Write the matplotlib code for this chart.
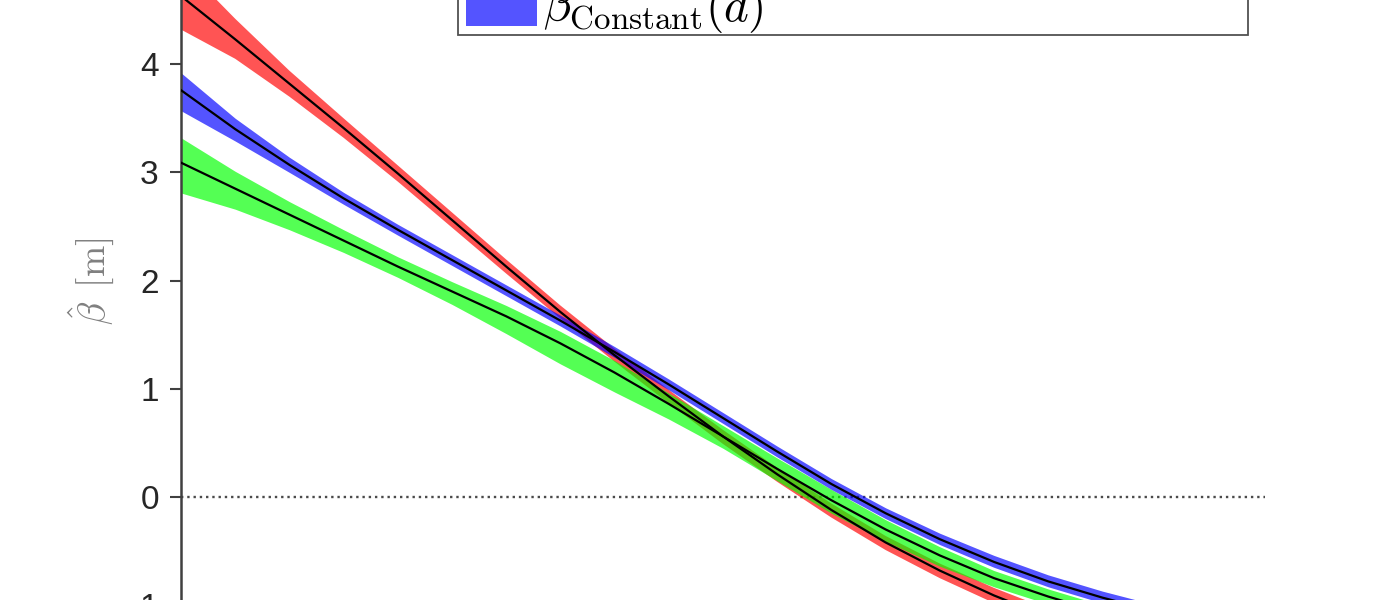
import matplotlib
matplotlib.use("Agg")
import matplotlib.pyplot as plt
from matplotlib.patches import Patch, Rectangle
from matplotlib.legend_handler import HandlerPatch
import numpy as np

plt.rcParams['font.family'] = ['Liberation Sans', 'DejaVu Sans']
plt.rcParams['mathtext.fontset'] = 'cm'
plt.rcParams['axes.unicode_minus'] = False

# ---------------- data ----------------
d = [0.0, 0.5, 1.0, 1.5, 2.0, 2.5, 3.0, 3.5, 4.0, 4.5,
     5.0, 5.5, 6.0, 6.5, 7.0, 7.5, 8.0, 8.5, 9.0]

red_mid = [4.63, 4.23, 3.82, 3.41, 2.99, 2.56, 2.13, 1.71, 1.31, 0.93,
           0.56, 0.21, -0.12, -0.42, -0.68, -0.91, -1.11, -1.29, -1.46]
red_up = [0.30, 0.19, 0.12, 0.09, 0.075, 0.07, 0.065, 0.06, 0.06, 0.06,
          0.06, 0.06, 0.06, 0.06, 0.065, 0.07, 0.075, 0.08, 0.085]
red_lo = [0.31, 0.18, 0.12, 0.09, 0.075, 0.07, 0.065, 0.06, 0.06, 0.065,
          0.07, 0.07, 0.07, 0.07, 0.07, 0.07, 0.075, 0.08, 0.085]

blue_mid = [3.76, 3.40, 3.07, 2.76, 2.47, 2.19, 1.91, 1.63, 1.34, 1.04,
            0.73, 0.42, 0.12, -0.15, -0.39, -0.60, -0.78, -0.93, -1.06]
blue_up = [0.16, 0.10, 0.07, 0.055, 0.05, 0.05, 0.05, 0.05, 0.05, 0.05,
           0.05, 0.05, 0.05, 0.05, 0.055, 0.06, 0.06, 0.06, 0.06]
blue_lo = [0.19, 0.11, 0.07, 0.055, 0.05, 0.05, 0.05, 0.05, 0.05, 0.05,
           0.05, 0.05, 0.05, 0.05, 0.05, 0.05, 0.05, 0.05, 0.05]

green_mid = [3.09, 2.85, 2.61, 2.37, 2.13, 1.90, 1.67, 1.42, 1.15, 0.86,
             0.56, 0.26, -0.03, -0.30, -0.54, -0.75, -0.92, -1.07, -1.21]
green_up = [0.23, 0.16, 0.12, 0.10, 0.09, 0.09, 0.10, 0.11, 0.11, 0.10,
            0.10, 0.10, 0.10, 0.09, 0.08, 0.07, 0.07, 0.07, 0.07]
green_lo = [0.28, 0.19, 0.14, 0.11, 0.10, 0.12, 0.16, 0.19, 0.18, 0.14,
            0.11, 0.11, 0.12, 0.11, 0.10, 0.08, 0.07, 0.07, 0.07]

y_ticks = [-1, 0, 1, 2, 3, 4]
legend_label = r'$\beta_{\mathrm{Constant}}(d)$'
y_label = r'$\hat{\beta}\ \,[\mathrm{m}]$'

# ---------------- figure ----------------
W, H = 1400, 600
fig = plt.figure(figsize=(W / 100, H / 100), dpi=100)
ppu = 108.2
zero_from_bottom = H - 497
y_lo, y_hi = -2.0, 5.0
ax_bottom = zero_from_bottom + y_lo * ppu
ax_height = (y_hi - y_lo) * ppu
ax = fig.add_axes([181 / W, ax_bottom / H, 1084 / W, ax_height / H])
ax.set_xlim(0, 10)
ax.set_ylim(y_lo, y_hi)

dd = np.array(d)
series = [
    (red_mid, red_up, red_lo, '#ff0000'),
    (green_mid, green_up, green_lo, '#00ff00'),
    (blue_mid, blue_up, blue_lo, '#0000ff'),
]
for mid, up, lo, col in series:
    mid = np.array(mid)
    ax.fill_between(dd, mid - np.array(lo), mid + np.array(up),
                    color=col, alpha=0.67, lw=0, zorder=2)
for mid, up, lo, col in series:
    ax.plot(dd, mid, color='black', lw=1.6, zorder=3,
            solid_joinstyle='round')

ax.axhline(0, color='#4a4a4a', ls=':', lw=1.7, zorder=1)

for s in ['top', 'right', 'bottom']:
    ax.spines[s].set_visible(False)
ax.spines['left'].set_color('#404040')
ax.spines['left'].set_linewidth(1.8)
ax.set_xticks([])
ax.set_yticks(y_ticks)
ax.tick_params(axis='y', direction='out', length=8, width=1.5,
               colors='#262626', labelsize=24, pad=8)
ax.tick_params(axis='y', color='#404040')

ax.set_ylabel(y_label, fontsize=27, color='#808080')
ax.yaxis.set_label_coords((91 - 181) / 1084, ((H - 281) - ax_bottom) / ax_height)
ax.yaxis.label.set_va('center')


# legend (only the lowest entry is inside the visible area)
def shifted_patch(legend, orig_handle, xdescent, ydescent, width, height, fontsize):
    return Rectangle((-xdescent + 5.8, -ydescent), width, height)


handle = Patch(facecolor='#0000ff', alpha=0.67, edgecolor='none')
leg = fig.legend([handle], [legend_label], loc='lower left',
                 bbox_to_anchor=(458 / W, 1 - 35 / H, 790 / W, 0.05),
                 mode='expand', borderaxespad=0, fontsize=34,
                 handlelength=1.5, handleheight=1.0, handletextpad=0.31,
                 borderpad=0.0, frameon=True, fancybox=False,
                 handler_map={Patch: HandlerPatch(patch_func=shifted_patch)})
leg.get_frame().set_edgecolor('#262626')
leg.get_frame().set_linewidth(1.3)

fig.savefig('out.png', dpi=100)
